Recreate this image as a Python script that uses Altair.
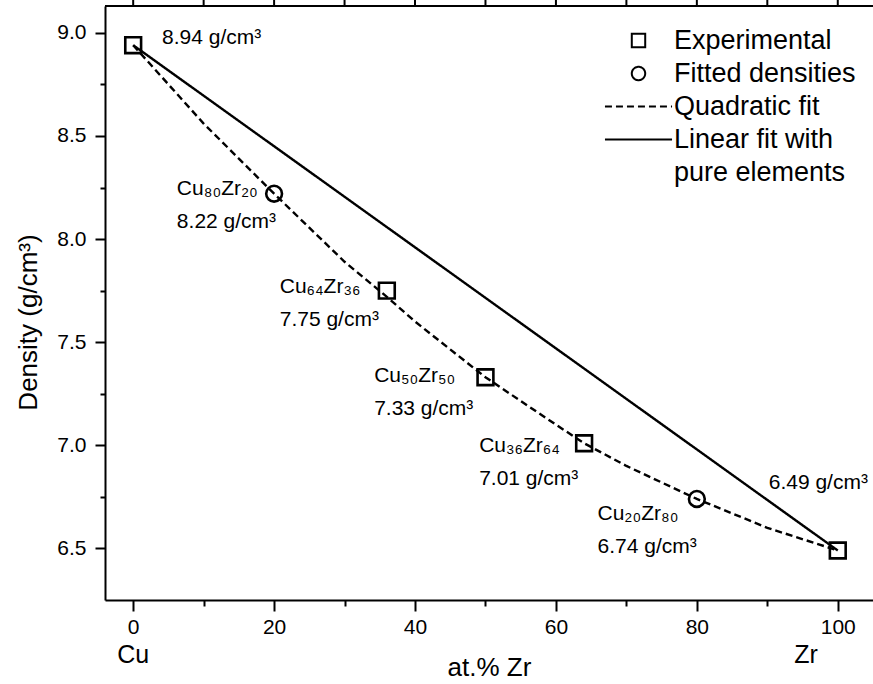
import altair as alt
import pandas as pd

FONT = "Liberation Sans"

# ---- data ----
exp_x = [0, 36, 50, 64, 100]
exp_y = [8.94, 7.75, 7.33, 7.01, 6.49]
fit_x = [20, 80]
fit_y = [8.22, 6.74]
quad_x = [0, 10, 20, 30, 36, 40, 50, 60, 64, 70, 80, 90, 100]
quad_y = [8.94, 8.56, 8.22, 7.89, 7.72, 7.60, 7.33, 7.10, 7.01, 6.90, 6.74, 6.60, 6.49]
lin_x = [0, 100]
lin_y = [8.94, 6.49]

SERIES = ["Experimental", "Fitted densities", "Quadratic fit", "Linear fit with pure elements"]

ann_text = [
    "8.94 g/cm³",
    "Cu₈₀Zr₂₀\n8.22 g/cm³",
    "Cu₆₄Zr₃₆\n7.75 g/cm³",
    "Cu₅₀Zr₅₀\n7.33 g/cm³",
    "Cu₃₆Zr₆₄\n7.01 g/cm³",
    "Cu₂₀Zr₈₀\n6.74 g/cm³",
    "6.49 g/cm³",
]
ann_x = [4.1, 6.2, 20.8, 34.2, 49.1, 65.9, 90.2]
ann_y = [8.948, 8.213, 7.739, 7.308, 6.969, 6.636, 6.786]

end_text = ["Cu", "Zr"]
end_x = [0, 95.5]
end_y = [5.945, 5.945]

x_ticks = [0, 10, 20, 30, 40, 50, 60, 70, 80, 90, 100]
y_ticks = [6.5, 6.75, 7.0, 7.25, 7.5, 7.75, 8.0, 8.25, 8.5, 8.75, 9.0]

# ---- tables ----
pts = pd.DataFrame({
    "x": exp_x + fit_x,
    "y": exp_y + fit_y,
    "series": [SERIES[0]] * len(exp_x) + [SERIES[1]] * len(fit_x),
})
lines = pd.DataFrame({
    "x": quad_x + lin_x,
    "y": quad_y + lin_y,
    "series": [SERIES[2]] * len(quad_x) + [SERIES[3]] * len(lin_x),
})
ann = pd.DataFrame({"text": ann_text, "x": ann_x, "y": ann_y})
ends = pd.DataFrame({"text": end_text, "x": end_x, "y": end_y})
top_ticks = pd.DataFrame({"x": x_ticks})

xs = alt.Scale(domain=[-4, 105], nice=False, zero=False)
ys = alt.Scale(domain=[6.25, 9.13], nice=False, zero=False)

shape_scale = alt.Scale(domain=SERIES, range=["square", "circle", "M-5,0H5", "M-5,0H5"])
dash_scale = alt.Scale(domain=SERIES, range=[[1, 0], [1, 0], [7, 4], [1, 0]])

legend = alt.Legend(
    title=None,
    orient="none",
    legendX=520,
    legendY=21,
    labelExpr="datum.label == 'Linear fit with pure elements' ? ['Linear fit with', 'pure elements'] : datum.label",
)

x_major = "datum.value % 20 === 0"
y_major = "abs(datum.value * 2 - round(datum.value * 2)) < 0.001"

x_axis = alt.Axis(
    orient="bottom",
    values=x_ticks,
    labelExpr=f"{x_major} ? datum.label : ''",
    tickSize={"condition": {"test": x_major, "value": 11}, "value": 6},
    title="at.% Zr",
    titleFontSize=26,
    titlePadding=17,
    labelPadding=5,
)
y_axis = alt.Axis(
    orient="left",
    values=y_ticks,
    labelExpr=f"{y_major} ? format(datum.value, '.1f') : ''",
    tickSize={"condition": {"test": y_major, "value": 10}, "value": 5},
    title="Density (g/cm³)",
    titleFontSize=26,
    titlePadding=15,
    titleY=316,
    labelPadding=9,
)

X = alt.X("x:Q", scale=xs, axis=x_axis)
Y = alt.Y("y:Q", scale=ys, axis=y_axis)

line_layer = alt.Chart(lines).mark_line(color="black", strokeWidth=2.4).encode(
    x=X,
    y=Y,
    strokeDash=alt.StrokeDash("series:N", scale=dash_scale, legend=legend),
    detail="series:N",
)

pt_layer = alt.Chart(pts).mark_point(
    color="black", filled=False, strokeWidth=2.6, size=250, opacity=1
).encode(
    x=X,
    y=Y,
    shape=alt.Shape("series:N", scale=shape_scale, legend=legend),
)

ann_layer = alt.Chart(ann).mark_text(
    align="left", baseline="alphabetic", fontSize=21, font=FONT,
    lineBreak="\n", lineHeight=33, color="black",
).encode(
    x=X,
    y=Y,
    text="text:N",
)

end_layer = alt.Chart(ends).mark_text(
    align="center", baseline="alphabetic", fontSize=25, font=FONT, color="black",
).encode(
    x=X,
    y=Y,
    text="text:N",
)

# top frame line and its outward ticks (mirror of the bottom axis)
top_line = alt.Chart(top_ticks).mark_rule(color="black", strokeWidth=2).encode(
    x=alt.value(0), x2=alt.value(768), y=alt.value(0)
)
top_tick_layer = alt.Chart(top_ticks).mark_rule(color="black", strokeWidth=2).encode(
    x=X,
    y=alt.value(0),
    y2=alt.value(-8),
)

chart = alt.layer(
    top_line, top_tick_layer, line_layer, pt_layer, ann_layer, end_layer
).properties(
    width=768,
    height=594,
    autosize=alt.AutoSizeParams(type="none"),
    padding={"left": 105, "top": 6, "right": 0, "bottom": 84},
).configure(
    font=FONT,
    style={"guide-label": {"lineHeight": 33}},
).configure_view(
    stroke=None,
).configure_axis(
    labelFont=FONT,
    titleFont=FONT,
    labelFontSize=21,
    labelColor="black",
    titleColor="black",
    titleFontWeight="normal",
    domainColor="black",
    domainWidth=2,
    tickColor="black",
    tickWidth=2,
    grid=False,
    labelFlush=False,
    labelOverlap=False,
).configure_legend(
    labelFont=FONT,
    labelFontSize=27,
    labelColor="black",
    symbolSize=180,
    symbolStrokeWidth=2,
    symbolStrokeColor="black",
    symbolFillColor="transparent",
    labelOffset=22,
    rowPadding=5,
    padding=0,
    labelLimit=400,
)

chart.save("out.html", embed_options={"renderer": "svg", "actions": False})
